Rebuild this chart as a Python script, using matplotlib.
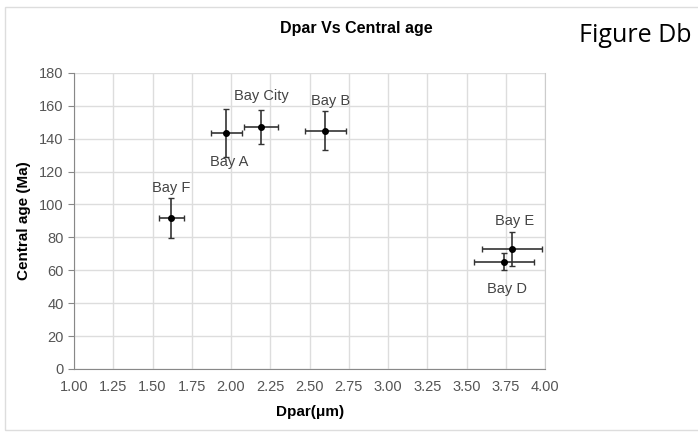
import matplotlib
matplotlib.use("Agg")
import matplotlib.pyplot as plt
from matplotlib.patches import Rectangle

# Data
names = ["Bay F", "Bay A", "Bay City", "Bay B", "Bay E", "Bay D"]
dpar = [1.62, 1.97, 2.19, 2.60, 3.79, 3.74]
dpar_err = [0.08, 0.10, 0.11, 0.13, 0.19, 0.19]
age = [91.7, 143.3, 147.1, 144.9, 72.8, 65.2]
age_err = [12.0, 14.7, 10.6, 12.0, 10.2, 5.0]

# label offsets in points (dx, dy)
offsets = [(0, 22), (2, -21), (0, 22), (4, 21), (2, 20), (2, -20)]

narrow = ["Liberation Sans", "DejaVu Sans"]

fig = plt.figure(figsize=(6.98, 4.34), dpi=100)
fig.patches.append(Rectangle((0.007, 0.01), 1.1, 0.975, transform=fig.transFigure,
                             fill=False, edgecolor="#dddddd", linewidth=1.0))

ax = fig.add_axes([0.106, 0.150, 0.675, 0.682])
ax.errorbar(dpar, age, xerr=dpar_err, yerr=age_err, fmt="o", color="black",
            markersize=4, ecolor="#333333", elinewidth=1.2, capsize=2.5, capthick=1.0)

for n, x, y, (dx, dy) in zip(names, dpar, age, offsets):
    ax.annotate(n, (x, y), xytext=(dx, dy), textcoords="offset points",
                ha="center", va="center", fontsize=10.5, color="#444444", family=narrow)

ax.set_xlim(1.0, 4.0)
ax.set_ylim(0, 180)
ax.set_xticks([1 + 0.25 * i for i in range(13)])
ax.set_yticks(range(0, 181, 20))
ax.set_xticklabels([f"{1 + 0.25 * i:.2f}" for i in range(13)])
ax.grid(True, color="#dddddd", linewidth=1.0)
ax.set_axisbelow(True)
ax.spines["top"].set_visible(False)
ax.spines["right"].set_color("#cccccc")
ax.spines["left"].set_color("#888888")
ax.spines["bottom"].set_color("#888888")
ax.tick_params(axis="x", length=0, pad=8, labelsize=10.5, labelcolor="#555555")
ax.tick_params(axis="y", length=4, color="#888888", labelsize=10.5, labelcolor="#555555")
for lab in ax.get_xticklabels() + ax.get_yticklabels():
    lab.set_family(narrow)

ax.set_xlabel("Dpar(μm)", fontsize=11, fontweight="bold", family=narrow, labelpad=8)
ax.set_ylabel("Central age (Ma)", fontsize=11, fontweight="bold", family=narrow, labelpad=6)

fig.text(0.51, 0.935, "Dpar Vs Central age", ha="center", va="center",
         fontsize=11.5, fontweight="bold", family=narrow)
fig.text(0.83, 0.918, "Figure Db", ha="left", va="center", fontsize=18,
         family=["Open Sans", "DejaVu Sans"])

fig.savefig("out.png", dpi=100)
